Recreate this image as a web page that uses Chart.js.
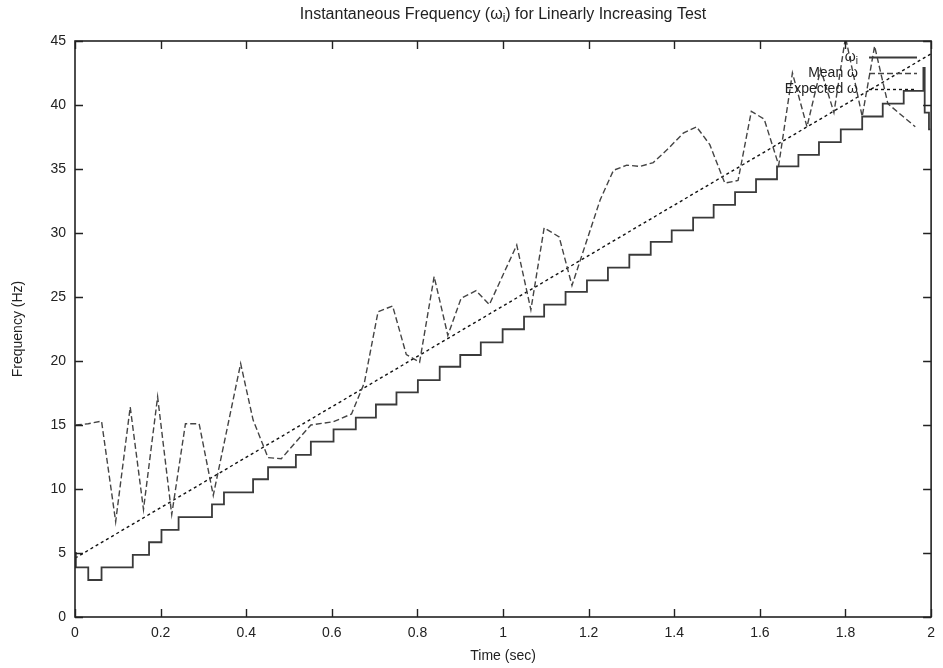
<!DOCTYPE html>
<html>
<head>
<meta charset="utf-8">
<title>Instantaneous Frequency for Linearly Increasing Test</title>
<script src="https://cdn.jsdelivr.net/npm/chart.js@4.4.1/dist/chart.umd.min.js"></script>
<style>
  html, body { margin: 0; padding: 0; background: #fff; }
  #wrap { width: 943px; height: 668px; position: relative; }
</style>
</head>
<body>
<div id="wrap"><canvas id="chart" width="943" height="668"></canvas></div>
<script>
// Time (s) where each step of the instantaneous frequency starts, and its value (Hz)
const stepTimes = [0, 0.002, 0.031, 0.062, 0.135, 0.173, 0.202, 0.242, 0.320, 0.348,
  0.416, 0.451, 0.516, 0.551, 0.604, 0.656, 0.703, 0.751, 0.801, 0.852,
  0.900, 0.948, 0.999, 1.049, 1.096, 1.146, 1.196, 1.245, 1.295, 1.345,
  1.394, 1.444, 1.492, 1.542, 1.591, 1.640, 1.690, 1.738, 1.789, 1.839,
  1.887, 1.936, 1.982, 1.985, 1.995, 1.998];
const stepFreq = [5.0, 3.88, 2.89, 3.88, 4.86, 5.84, 6.8, 7.8, 8.8, 9.74,
  10.76, 11.7, 12.66, 13.7, 14.66, 15.57, 16.6, 17.55, 18.5, 19.55,
  20.47, 21.46, 22.48, 23.46, 24.4, 25.4, 26.3, 27.3, 28.3, 29.3,
  30.2, 31.2, 32.2, 33.2, 34.2, 35.2, 36.1, 37.1, 38.1, 39.1,
  40.1, 41.1, 42.9, 39.4, 38.1, 38.1];

// Mean frequency estimate
const meanTimes = [0.002, 0.031, 0.062, 0.095, 0.129, 0.160, 0.193, 0.226, 0.258, 0.290,
  0.323, 0.387, 0.416, 0.451, 0.482, 0.551, 0.604, 0.646, 0.676, 0.708,
  0.742, 0.774, 0.805, 0.839, 0.871, 0.902, 0.937, 0.968, 1.032, 1.065,
  1.096, 1.131, 1.161, 1.227, 1.258, 1.289, 1.320, 1.351, 1.386, 1.421,
  1.452, 1.483, 1.518, 1.549, 1.580, 1.610, 1.644, 1.676, 1.710, 1.742,
  1.773, 1.800, 1.839, 1.868, 1.899, 1.963];
const meanFreq = [15.0, 15.1, 15.3, 7.45, 16.4, 8.4, 17.2, 8.0, 15.1, 15.1,
  9.5, 19.8, 15.4, 12.45, 12.37, 15.0, 15.26, 15.86, 18.3, 23.85,
  24.3, 20.5, 19.9, 26.6, 22.0, 24.9, 25.5, 24.4, 29.06, 24.0,
  30.4, 29.7, 25.9, 32.6, 34.9, 35.3, 35.2, 35.5, 36.6, 37.8,
  38.3, 36.9, 33.9, 34.1, 39.5, 38.9, 35.3, 42.5, 38.3, 42.8,
  39.4, 45.3, 39.1, 44.6, 40.1, 38.3];

// Expected (linear sweep) frequency at the start and end of the test
const expectedTimes = [0, 2];
const expectedFreq = [4.6, 44.0];

// Axis tick labels
const xTickLabels = ['0', '0.2', '0.4', '0.6', '0.8', '1', '1.2', '1.4', '1.6', '1.8', '2'];
const yTickLabels = ['0', '5', '10', '15', '20', '25', '30', '35', '40', '45'];

const titleParts = ['Instantaneous Frequency (\u03c9', 'i', ') for Linearly Increasing Test'];
const legendItems = [
  { label: '\u03c9', sub: 'i', dash: [] },
  { label: 'Mean \u03c9', sub: '', dash: [6, 3] },
  { label: 'Expected \u03c9', sub: '', dash: [3, 3] }
];

const FONT = '"Liberation Sans", Arial, Helvetica, sans-serif';
const toPoints = (xs, ys) => xs.map((x, i) => ({ x: x, y: ys[i] }));

// Gnuplot-like frame: border, inward ticks on all sides, centred title, key
const framePlugin = {
  id: 'frame',
  afterDatasetsDraw(chart) {
    const { ctx, chartArea: a, scales: { x, y } } = chart;
    const tl = 8;
    ctx.save();
    ctx.strokeStyle = '#222';
    ctx.lineWidth = 1.4;
    ctx.beginPath();
    x.ticks.forEach(t => {
      const px = Math.round(x.getPixelForValue(t.value)) + 0.5;
      ctx.moveTo(px, a.bottom); ctx.lineTo(px, a.bottom - tl);
      ctx.moveTo(px, a.top); ctx.lineTo(px, a.top + tl);
    });
    y.ticks.forEach(t => {
      const py = Math.round(y.getPixelForValue(t.value)) + 0.5;
      ctx.moveTo(a.left, py); ctx.lineTo(a.left + tl, py);
      ctx.moveTo(a.right, py); ctx.lineTo(a.right - tl, py);
    });
    ctx.stroke();
    ctx.lineWidth = 1.6;
    ctx.strokeRect(a.left, a.top, a.right - a.left, a.bottom - a.top);

    // key, top right
    const keyRight = 858, sx0 = 869, sx1 = 917;
    const rowY = [57, 73, 89];
    chart.data.datasets.forEach((ds, i) => {
      const it = legendItems[i];
      const yy = rowY[i];
      ctx.font = '14px ' + FONT;
      ctx.fillStyle = '#222';
      ctx.textBaseline = 'middle';
      ctx.textAlign = 'right';
      let right = keyRight;
      if (it.sub) {
        ctx.font = '10px ' + FONT;
        ctx.fillText(it.sub, right, yy + 4);
        right -= ctx.measureText(it.sub).width;
        ctx.font = '14px ' + FONT;
      }
      ctx.fillText(it.label, right, yy);
      ctx.setLineDash(it.dash);
      ctx.strokeStyle = ds.borderColor;
      ctx.lineWidth = ds.borderWidth;
      ctx.beginPath();
      ctx.moveTo(sx0, yy + 0.5); ctx.lineTo(sx1, yy + 0.5);
      ctx.stroke();
      ctx.setLineDash([]);
    });

    // title, centred over the plot
    ctx.fillStyle = '#222';
    ctx.textBaseline = 'alphabetic';
    ctx.textAlign = 'left';
    const big = '16px ' + FONT, small = '12px ' + FONT;
    ctx.font = big; const w0 = ctx.measureText(titleParts[0]).width;
    const w2 = ctx.measureText(titleParts[2]).width;
    ctx.font = small; const w1 = ctx.measureText(titleParts[1]).width;
    let tx = (a.left + a.right) / 2 - (w0 + w1 + w2) / 2;
    const ty = 19;
    ctx.font = big; ctx.fillText(titleParts[0], tx, ty); tx += w0;
    ctx.font = small; ctx.fillText(titleParts[1], tx, ty + 3); tx += w1;
    ctx.font = big; ctx.fillText(titleParts[2], tx, ty);
    ctx.restore();
  }
};

new Chart(document.getElementById('chart'), {
  type: 'line',
  data: {
    datasets: [
      {
        label: '\u03c9i',
        data: toPoints(stepTimes, stepFreq),
        stepped: 'before',
        borderColor: '#3a3a3a',
        borderWidth: 1.8,
        pointRadius: 0,
        fill: false
      },
      {
        label: 'Mean \u03c9',
        data: toPoints(meanTimes, meanFreq),
        borderColor: '#444',
        borderWidth: 1.4,
        borderDash: [6, 3],
        tension: 0,
        pointRadius: 0,
        fill: false
      },
      {
        label: 'Expected \u03c9',
        data: toPoints(expectedTimes, expectedFreq),
        borderColor: '#111',
        borderWidth: 1.4,
        borderDash: [3, 3],
        pointRadius: 0,
        fill: false
      }
    ]
  },
  options: {
    responsive: false,
    animation: false,
    events: [],
    layout: { padding: { top: 41, right: 8, bottom: 0, left: 0 } },
    plugins: {
      legend: { display: false },
      title: { display: false },
      tooltip: { enabled: false }
    },
    scales: {
      x: {
        type: 'linear',
        min: 0,
        max: 2,
        afterFit(s) { s.height = 51; },
        afterBuildTicks(s) { s.ticks = xTickLabels.map(l => ({ value: parseFloat(l) })); },
        grid: { display: false, drawTicks: false },
        border: { display: false },
        ticks: {
          padding: 8,
          color: '#222',
          font: { family: FONT, size: 14 },
          maxRotation: 0,
          autoSkip: false,
          callback: (v, i) => xTickLabels[i]
        },
        title: {
          display: true,
          text: 'Time (sec)',
          color: '#222',
          font: { family: FONT, size: 14 },
          padding: { top: 0, bottom: 3 }
        }
      },
      y: {
        type: 'linear',
        min: 0,
        max: 45,
        afterFit(s) { s.width = 75; },
        afterBuildTicks(s) { s.ticks = yTickLabels.map(l => ({ value: parseFloat(l) })); },
        grid: { display: false, drawTicks: false },
        border: { display: false },
        ticks: {
          padding: 9,
          color: '#222',
          font: { family: FONT, size: 14 },
          autoSkip: false,
          callback: (v, i) => yTickLabels[i]
        },
        title: {
          display: true,
          text: 'Frequency (Hz)',
          color: '#222',
          font: { family: FONT, size: 14 },
          padding: { top: 10, bottom: 0 }
        }
      }
    }
  },
  plugins: [framePlugin]
});
</script>
</body>
</html>
